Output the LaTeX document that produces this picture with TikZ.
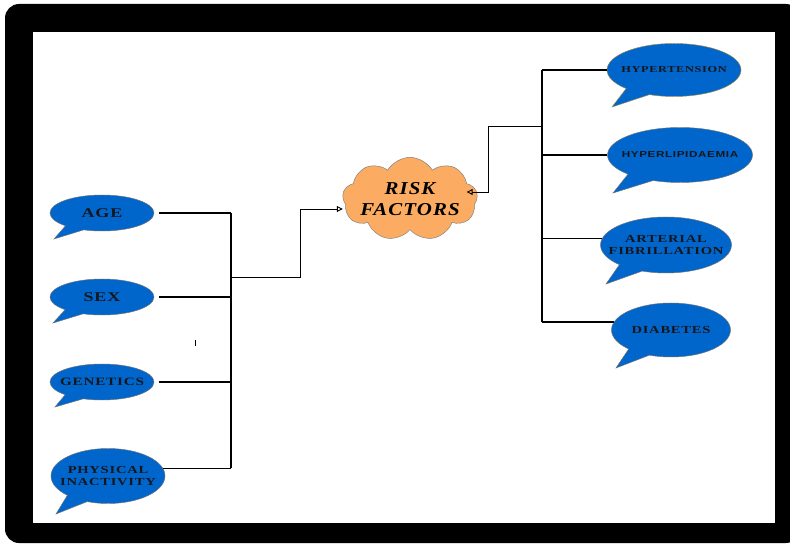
\documentclass[tikz,border=0pt]{standalone}
\usepackage{fontspec}
\setmainfont{Liberation Serif}
\newfontfamily\bubblefont[FakeStretch=1.35,LetterSpace=7]{Liberation Serif}
\newfontfamily\bubblesans[FakeStretch=1.35,LetterSpace=7]{Liberation Sans}
\newfontfamily\cloudfont[FakeStretch=1.15,LetterSpace=6]{Liberation Serif}
\usepackage{tikz}
\usetikzlibrary{positioning,arrows.meta,shapes.callouts,shapes.symbols}
\definecolor{BubbleBlue}{HTML}{0066CC}
\definecolor{BubbleEdge}{HTML}{9C8A4A}
\definecolor{CloudOrange}{HTML}{FBAC62}
\definecolor{TextDark}{HTML}{16161C}
\definecolor{FrameBlack}{HTML}{000000}

\begin{document}
\begin{tikzpicture}[x=0.03cm,y=-0.03cm,
          bubble/.style={ellipse callout, draw=black!55, line width=0.4pt,
            fill=BubbleBlue, inner xsep=-14pt, inner ysep=0pt, align=center,
            text=TextDark, callout pointer arc=24},
          wire/.style={line width=1.3pt},
          bus/.style={line width=2.2pt},
          ar/.style={-{Triangle[open,length=5pt,width=5pt]},line width=0.8pt}]
        \useasboundingbox (0,0) rectangle (790,545);
        % frame
        \fill[FrameBlack, rounded corners=12pt] (5,4) rectangle (800,543);
        \fill[white] (33,32) rectangle (775,523);

        % left bubbles
        \coordinate (ageTip) at (54,239);
        \coordinate (sexTip) at (53,323);
        \coordinate (genTip) at (55,407);
        \coordinate (inactTip) at (56,514);
        \node[bubble, minimum width=3.12cm, minimum height=1.08cm,
          callout absolute pointer={(ageTip)},
          font={\bubblefont\bfseries\fontsize{11.4}{12}\selectfont}]
        (age) at (102,213) {AGE};
        \node[bubble, minimum width=3.12cm, minimum height=1.08cm,
          callout absolute pointer={(sexTip)},
          font={\bubblefont\bfseries\fontsize{11.4}{12}\selectfont}]
        (sex) at (102,297) {SEX};
        \node[bubble, minimum width=3.12cm, minimum height=1.08cm,
          callout absolute pointer={(genTip)},
          font={\bubblefont\bfseries\fontsize{9.6}{11}\selectfont}]
        (gen) at (102,382) {GENETICS};
        \node[bubble, minimum width=3.42cm, minimum height=1.65cm,
          callout absolute pointer={(inactTip)},
          font={\bubblefont\bfseries\fontsize{9.2}{10.2}\selectfont}]
        (inact) at (108,476) {PHYSICAL\\INACTIVITY};

        % right bubbles
        \coordinate (hypTip) at (612,107);
        \coordinate (lipTip) at (613,193);
        \coordinate (fibTip) at (606,284);
        \coordinate (diabTip) at (616,368);
        \node[bubble, draw=BubbleEdge, minimum width=4.02cm, minimum height=1.59cm,
          callout absolute pointer={(hypTip)},
          font={\bubblefont\bfseries\fontsize{7.8}{9}\selectfont}]
        (hyp) at (674,70) {HYPERTENSION};
        \node[bubble, minimum width=4.35cm, minimum height=1.65cm,
          callout absolute pointer={(lipTip)},
          font={\bubblesans\bfseries\fontsize{7.4}{9}\selectfont}]
        (lip) at (680,155) {HYPERLIPIDAEMIA};
        \node[bubble, minimum width=3.93cm, minimum height=1.68cm,
          callout absolute pointer={(fibTip)},
          font={\bubblefont\bfseries\fontsize{9.2}{10.6}\selectfont}]
        (fib) at (666,245) {ARTERIAL\\FIBRILLATION};
        \node[bubble, minimum width=3.57cm, minimum height=1.62cm,
          callout absolute pointer={(diabTip)},
          font={\bubblefont\bfseries\fontsize{9.2}{11}\selectfont}]
        (diab) at (671,330) {DIABETES};

        % centre cloud
        \node[cloud, draw=black!50, fill=CloudOrange, cloud puffs=9,
          cloud puff arc=120, cloud ignores aspect, minimum width=4.05cm,
          minimum height=2.5cm, inner xsep=-12pt, inner ysep=0pt, align=center,
          text=black, font={\cloudfont\bfseries\itshape\fontsize{15.5}{18}\selectfont}]
        (risk) at (410,199) {RISK\\FACTORS};

        % left bracket
        \coordinate (lbus) at (231,277);
        \coordinate (lknee) at (300,209);
        \draw[wire, shorten <=4pt] (age.east) -- (age.east -| lbus);
        \draw[wire, shorten <=4pt] (sex.east) -- (sex.east -| lbus);
        \draw[wire, shorten <=4pt] (gen.east) -- (gen.east -| lbus);
        \draw[wire] (inact.8) -- (inact.8 -| lbus);
        \draw[bus] (age.east -| lbus) -- (inact.8 -| lbus);
        \draw[ar] (lbus) -| (lknee) -- (lknee -| risk.west);

        % right bracket
        \coordinate (rbus) at (542,126);
        \coordinate (rknee) at (488,192);
        \draw[wire] (hyp.west) -- (hyp.west -| rbus);
        \draw[wire] (lip.west) -- (lip.west -| rbus);
        \draw[wire] (fib.174) -- (fib.174 -| rbus);
        \draw[wire] (diab.172) -- (diab.172 -| rbus);
        \draw[bus] (hyp.west -| rbus) -- (diab.172 -| rbus);
        \draw[ar, shorten >=-9pt] (rbus) -| (rknee) -- (rknee -| risk.east);

        % stray tick
        \draw[line width=0.6pt] (195,340) -- (195,346);
      \end{tikzpicture}
\end{document}
